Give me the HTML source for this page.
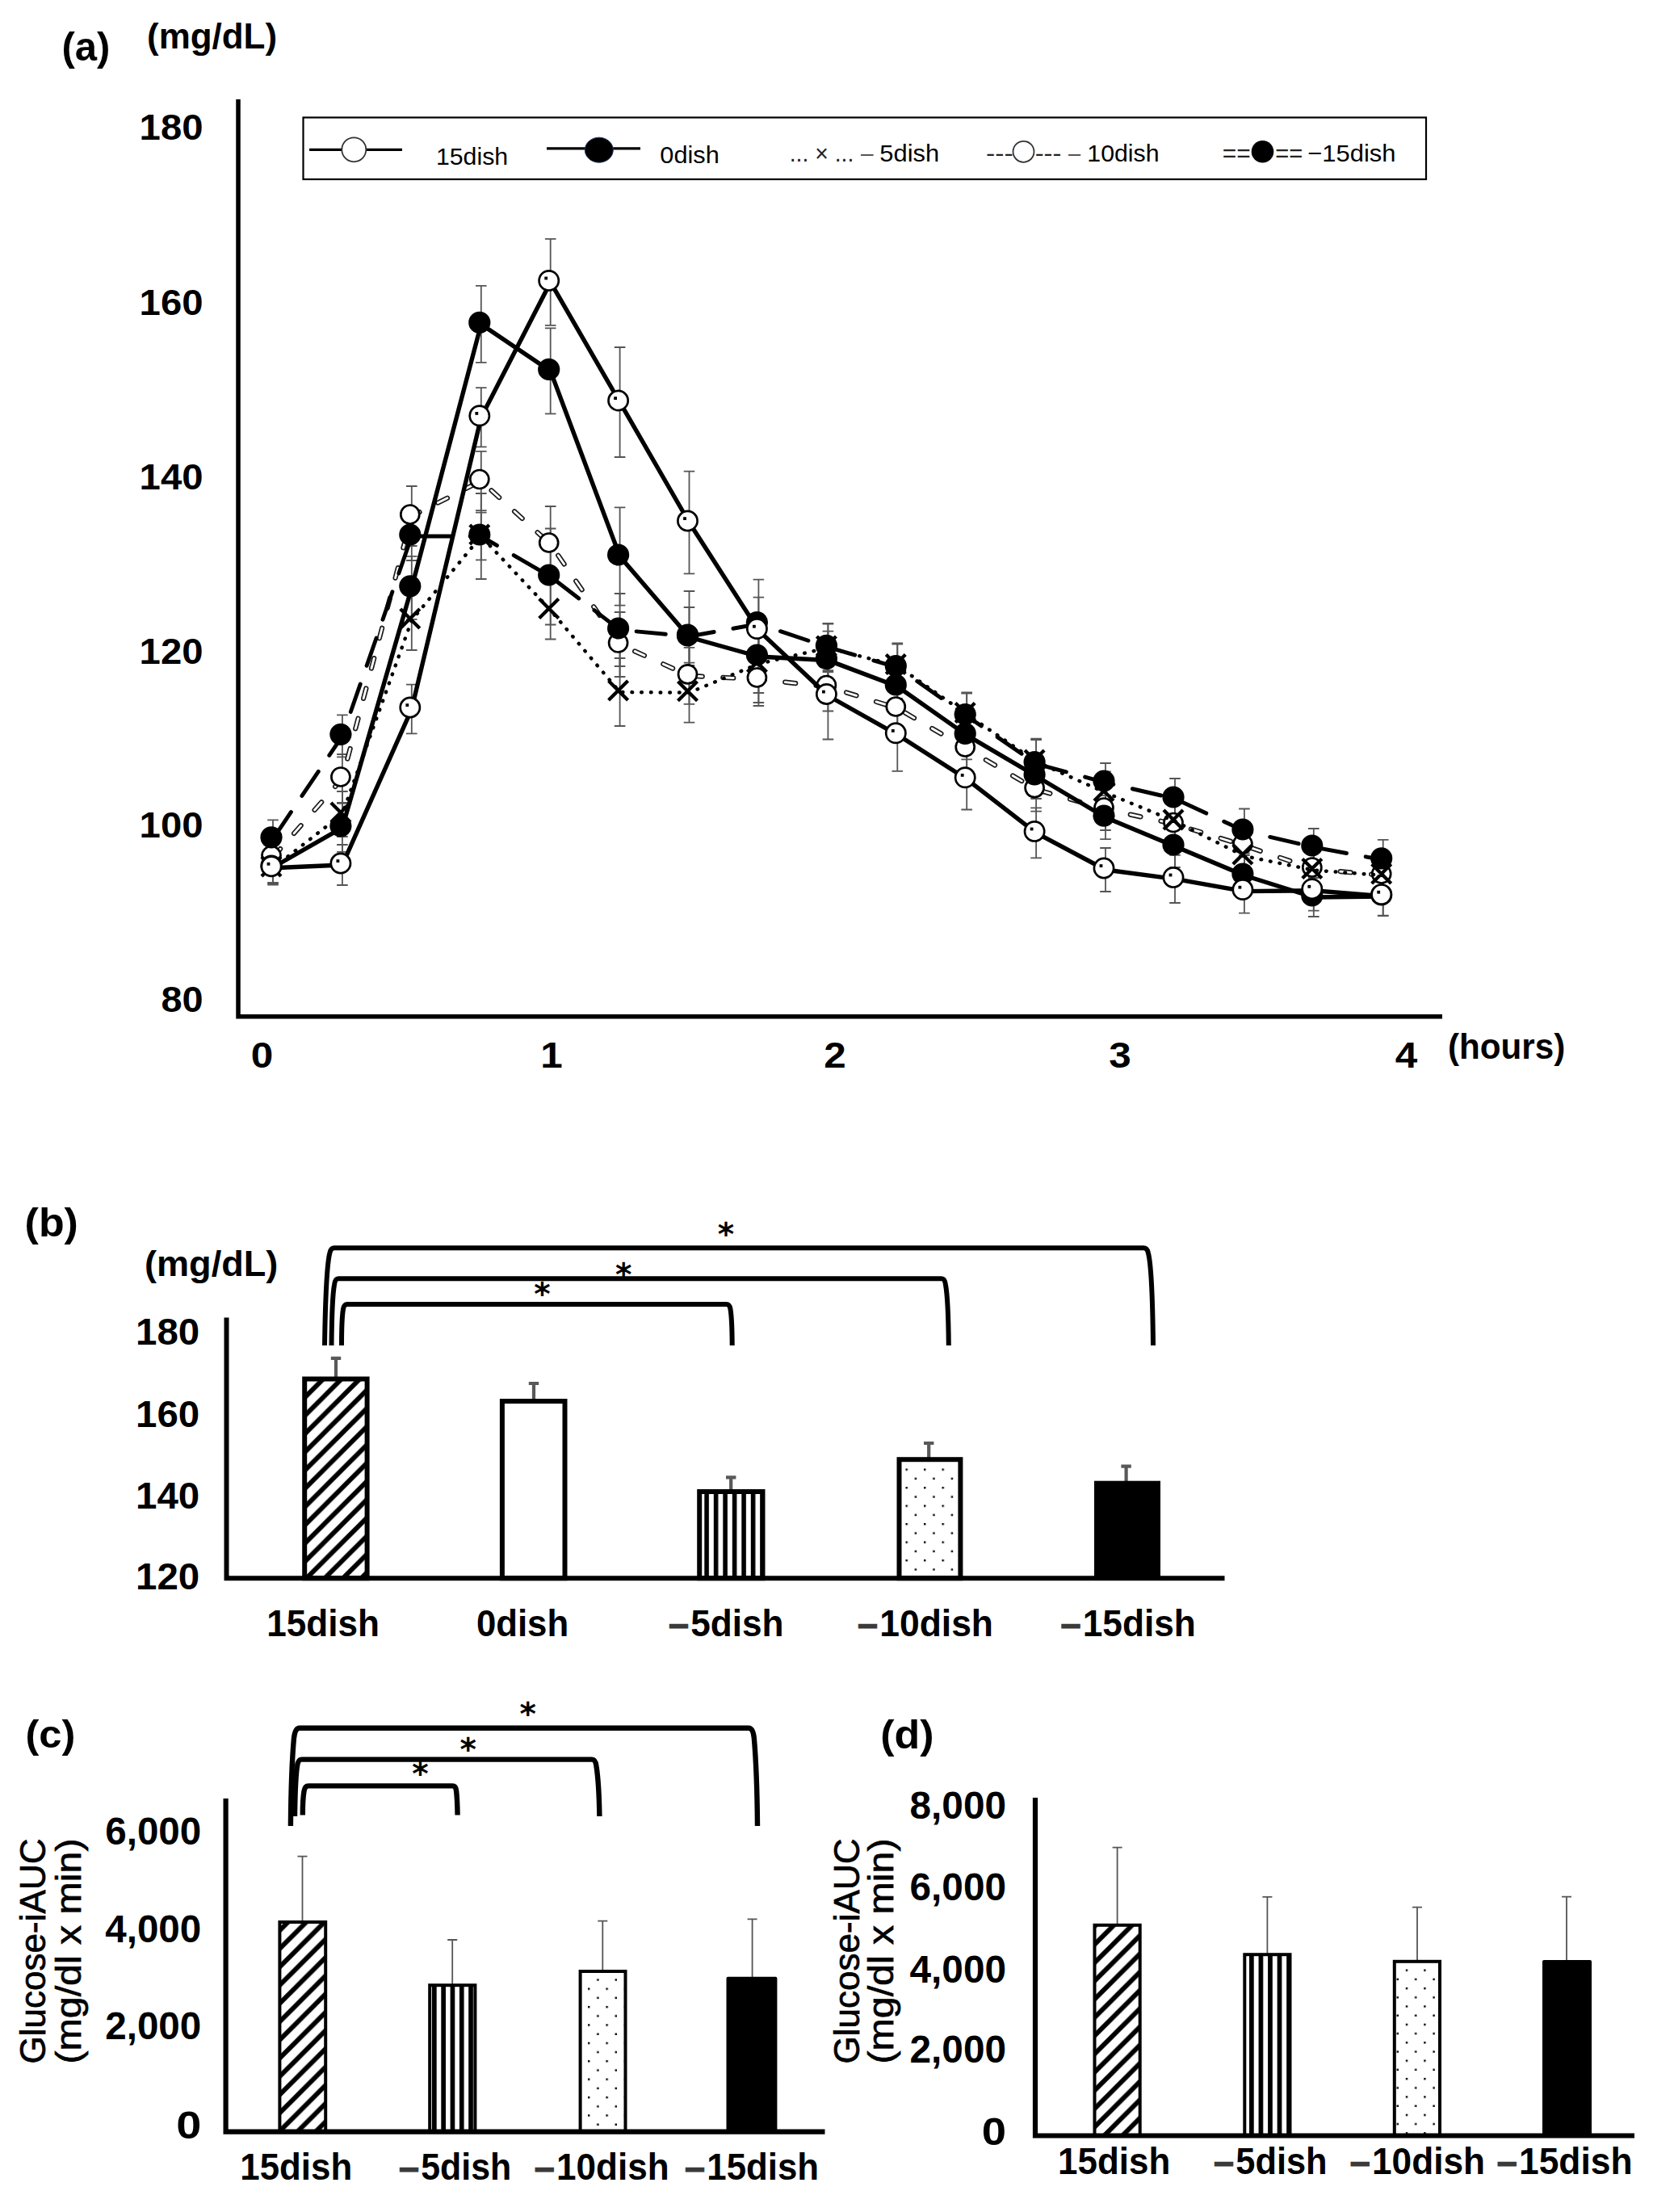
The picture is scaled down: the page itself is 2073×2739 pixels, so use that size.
<!DOCTYPE html>
<html lang="en"><head><meta charset="utf-8"><title>Figure</title>
<style>
html,body{margin:0;padding:0;background:#fff}
body{width:2073px;height:2739px;overflow:hidden}
svg{display:block;font-family:"Liberation Sans", sans-serif}
</style></head><body>
<svg width="2073" height="2739" viewBox="0 0 2073 2739">
<rect width="2073" height="2739" fill="#fff"/>
<defs><pattern id="hB" patternUnits="userSpaceOnUse" width="22.6" height="22.6" patternTransform="translate(379.9 1727.9)"><rect width="22.6" height="22.6" fill="#fff"/><path d="M-5.65 5.65L5.65 -5.65M0 22.6L22.6 0M16.950000000000003 28.25L28.25 16.950000000000003" stroke="#000" stroke-width="5.8" fill="none"/></pattern><pattern id="vB" patternUnits="userSpaceOnUse" width="11.5" height="10" patternTransform="translate(872.3 0)"><rect width="11.5" height="10" fill="#fff"/><rect width="5.6" height="10" fill="#000"/></pattern><pattern id="dB" patternUnits="userSpaceOnUse" width="22.5" height="22.5" patternTransform="translate(1121.5 1818.5)"><rect width="22.5" height="22.5" fill="#fff"/><rect width="2.4" height="2.4" fill="#000"/><rect x="11.25" y="11.25" width="2.4" height="2.4" fill="#000"/></pattern><pattern id="hC" patternUnits="userSpaceOnUse" width="22.6" height="22.6" patternTransform="translate(348.1 2411.2)"><rect width="22.6" height="22.6" fill="#fff"/><path d="M-5.65 5.65L5.65 -5.65M0 22.6L22.6 0M16.950000000000003 28.25L28.25 16.950000000000003" stroke="#000" stroke-width="5.8" fill="none"/></pattern><pattern id="vC" patternUnits="userSpaceOnUse" width="11.3" height="10" patternTransform="translate(535.0 0)"><rect width="11.3" height="10" fill="#fff"/><rect width="5.7" height="10" fill="#000"/></pattern><pattern id="dC" patternUnits="userSpaceOnUse" width="22.4" height="22.4" patternTransform="translate(728.0 2461.5)"><rect width="22.4" height="22.4" fill="#fff"/><rect width="2.4" height="2.4" fill="#000"/><rect x="11.2" y="11.2" width="2.4" height="2.4" fill="#000"/></pattern><pattern id="hD" patternUnits="userSpaceOnUse" width="22.6" height="22.6" patternTransform="translate(1357.2 2406.0)"><rect width="22.6" height="22.6" fill="#fff"/><path d="M-5.65 5.65L5.65 -5.65M0 22.6L22.6 0M16.950000000000003 28.25L28.25 16.950000000000003" stroke="#000" stroke-width="5.8" fill="none"/></pattern><pattern id="vD" patternUnits="userSpaceOnUse" width="11.55" height="10" patternTransform="translate(1547.0 0)"><rect width="11.55" height="10" fill="#fff"/><rect width="5.7" height="10" fill="#000"/></pattern><pattern id="dD" patternUnits="userSpaceOnUse" width="22.4" height="22.4" patternTransform="translate(1740.8 2438.5)"><rect width="22.4" height="22.4" fill="#fff"/><rect width="2.4" height="2.4" fill="#000"/><rect x="11.2" y="11.2" width="2.4" height="2.4" fill="#000"/></pattern></defs>
<g id="panelA">
<text x="76.5" y="74.5" font-size="50" font-weight="bold" fill="#000" textLength="59.9" lengthAdjust="spacingAndGlyphs">(a)</text>
<text x="182.0" y="59.8" font-size="44.5" font-weight="bold" fill="#000" textLength="161.1" lengthAdjust="spacingAndGlyphs">(mg/dL)</text>
<text x="172.6" y="173.3" font-size="44" font-weight="bold" fill="#000" textLength="78.9" lengthAdjust="spacingAndGlyphs">180</text>
<text x="172.6" y="389.8" font-size="44" font-weight="bold" fill="#000" textLength="78.9" lengthAdjust="spacingAndGlyphs">160</text>
<text x="172.6" y="605.8" font-size="44" font-weight="bold" fill="#000" textLength="78.9" lengthAdjust="spacingAndGlyphs">140</text>
<text x="172.6" y="821.8" font-size="44" font-weight="bold" fill="#000" textLength="78.9" lengthAdjust="spacingAndGlyphs">120</text>
<text x="172.6" y="1037.3" font-size="44" font-weight="bold" fill="#000" textLength="78.9" lengthAdjust="spacingAndGlyphs">100</text>
<text x="199.4" y="1252.9" font-size="44" font-weight="bold" fill="#000" textLength="52.1" lengthAdjust="spacingAndGlyphs">80</text>
<text x="310.8" y="1322.0" font-size="44" font-weight="bold" fill="#000" textLength="27.5" lengthAdjust="spacingAndGlyphs">0</text>
<text x="669.2" y="1322.0" font-size="44" font-weight="bold" fill="#000" textLength="27.5" lengthAdjust="spacingAndGlyphs">1</text>
<text x="1020.2" y="1322.0" font-size="44" font-weight="bold" fill="#000" textLength="27.5" lengthAdjust="spacingAndGlyphs">2</text>
<text x="1373.2" y="1322.0" font-size="44" font-weight="bold" fill="#000" textLength="27.5" lengthAdjust="spacingAndGlyphs">3</text>
<text x="1727.7" y="1322.0" font-size="44" font-weight="bold" fill="#000" textLength="27.5" lengthAdjust="spacingAndGlyphs">4</text>
<text x="1793.0" y="1311.0" font-size="44" font-weight="bold" fill="#000" textLength="145.2" lengthAdjust="spacingAndGlyphs">(hours)</text>
<path d="M295 123 V1258.7 H1786" fill="none" stroke="#000" stroke-width="5.5" stroke-linejoin="miter"/>
<rect x="375.5" y="145.5" width="1390.5" height="76.5" fill="#fff" stroke="#000" stroke-width="2.2"/>
<line x1="383" y1="185.3" x2="498" y2="185.3" stroke="#000" stroke-width="3.2"/>
<circle cx="438.3" cy="185.3" r="15" fill="#fff" stroke="#333" stroke-width="1.8"/>
<text x="539.9" y="204.0" font-size="30" font-weight="normal" fill="#000" textLength="89.3" lengthAdjust="spacingAndGlyphs">15dish</text>
<line x1="677" y1="183.8" x2="793" y2="183.8" stroke="#000" stroke-width="3.2"/>
<ellipse cx="741.8" cy="185.7" rx="17.5" ry="15.5" fill="#000" stroke="#1f3864" stroke-width="1"/>
<text x="817.3" y="201.6" font-size="30" font-weight="normal" fill="#000" textLength="73.5" lengthAdjust="spacingAndGlyphs">0dish</text>
<text x="977.7" y="200.4" font-size="30" font-weight="normal" fill="#222" textLength="79.6" lengthAdjust="spacingAndGlyphs">... × ...</text>
<text x="1066.0" y="200.4" font-size="30" font-weight="normal" fill="#555" textLength="15.5" lengthAdjust="spacingAndGlyphs">–</text>
<text x="1089.3" y="200.4" font-size="30" font-weight="normal" fill="#000" textLength="73.8" lengthAdjust="spacingAndGlyphs">5dish</text>
<text x="1221.1" y="200.4" font-size="30" font-weight="normal" fill="#222" textLength="33.7" lengthAdjust="spacingAndGlyphs">---</text>
<circle cx="1267.5" cy="187.8" r="13" fill="#fff" stroke="#333" stroke-width="1.8"/>
<text x="1281.7" y="200.4" font-size="30" font-weight="normal" fill="#222" textLength="32.8" lengthAdjust="spacingAndGlyphs">---</text>
<text x="1323.0" y="200.4" font-size="30" font-weight="normal" fill="#555" textLength="15.1" lengthAdjust="spacingAndGlyphs">–</text>
<text x="1346.3" y="200.4" font-size="30" font-weight="normal" fill="#000" textLength="89.3" lengthAdjust="spacingAndGlyphs">10dish</text>
<text x="1513.7" y="200.4" font-size="30" font-weight="normal" fill="#222" textLength="34.9" lengthAdjust="spacingAndGlyphs">==</text>
<circle cx="1563.5" cy="187.8" r="13.8" fill="#000"/>
<text x="1579.3" y="200.4" font-size="30" font-weight="normal" fill="#222" textLength="34.1" lengthAdjust="spacingAndGlyphs">==</text>
<text x="1619.3" y="200.4" font-size="30" font-weight="normal" fill="#000" textLength="109.1" lengthAdjust="spacingAndGlyphs">−15dish</text>
<path d="M338.0 1044.5V1078.5M331.2 1044.5h13.6M331.2 1078.5h13.6M423.9 934.0V994.0M417.1 934.0h13.6M417.1 994.0h13.6M509.8 602.0V676.0M503.0 602.0h13.6M503.0 676.0h13.6M595.8 558.9V632.1M589.0 558.9h13.6M589.0 632.1h13.6M681.7 627.0V721.0M674.9 627.0h13.6M674.9 721.0h13.6M767.6 758.0V838.0M760.8 758.0h13.6M760.8 838.0h13.6M853.5 801.8V871.8M846.7 801.8h13.6M846.7 871.8h13.6M939.4 808.0V874.0M932.6 808.0h13.6M932.6 874.0h13.6M1025.4 820.5V880.5M1018.6 820.5h13.6M1018.6 880.5h13.6M1111.3 849.0V905.0M1104.5 849.0h13.6M1104.5 905.0h13.6M1197.2 899.0V955.0M1190.4 899.0h13.6M1190.4 955.0h13.6M1283.1 950.6V1004.6M1276.3 950.6h13.6M1276.3 1004.6h13.6M1369.0 976.0V1028.0M1362.2 976.0h13.6M1362.2 1028.0h13.6M1455.0 995.5V1045.5M1448.2 995.5h13.6M1448.2 1045.5h13.6M1540.9 1022.0V1072.0M1534.1 1022.0h13.6M1534.1 1072.0h13.6M1626.8 1052.0V1100.0M1620.0 1052.0h13.6M1620.0 1100.0h13.6M1712.7 1061.0V1107.0M1705.9 1061.0h13.6M1705.9 1107.0h13.6" stroke="#555" stroke-width="1.8" fill="none"/>
<path d="M338.0 1057.0V1093.0M331.2 1057.0h13.6M331.2 1093.0h13.6M423.9 980.0V1036.0M417.1 980.0h13.6M417.1 1036.0h13.6M509.8 731.0V805.0M503.0 731.0h13.6M503.0 805.0h13.6M595.8 611.0V717.0M589.0 611.0h13.6M589.0 717.0h13.6M681.7 719.5V791.5M674.9 719.5h13.6M674.9 791.5h13.6M767.6 815.0V899.0M760.8 815.0h13.6M760.8 899.0h13.6M853.5 820.7V894.7M846.7 820.7h13.6M846.7 894.7h13.6M939.4 774.0V870.0M932.6 774.0h13.6M932.6 870.0h13.6M1025.4 772.0V832.0M1018.6 772.0h13.6M1018.6 832.0h13.6M1111.3 796.5V852.5M1104.5 796.5h13.6M1104.5 852.5h13.6M1197.2 857.5V911.5M1190.4 857.5h13.6M1190.4 911.5h13.6M1283.1 916.0V970.0M1276.3 916.0h13.6M1276.3 970.0h13.6M1369.0 955.5V1007.5M1362.2 955.5h13.6M1362.2 1007.5h13.6M1455.0 991.0V1043.0M1448.2 991.0h13.6M1448.2 1043.0h13.6M1540.9 1035.0V1085.0M1534.1 1035.0h13.6M1534.1 1085.0h13.6M1626.8 1053.5V1101.5M1620.0 1053.5h13.6M1620.0 1101.5h13.6M1712.7 1060.0V1108.0M1705.9 1060.0h13.6M1705.9 1108.0h13.6" stroke="#555" stroke-width="1.8" fill="none"/>
<path d="M338.0 1015.3V1062.3M331.2 1015.3h13.6M331.2 1062.3h13.6M423.9 885.3V937.3M417.1 885.3h13.6M417.1 937.3h13.6M509.8 634.0V694.0M503.0 634.0h13.6M503.0 694.0h13.6M595.8 634.6V693.4M589.0 634.6h13.6M589.0 693.4h13.6M681.7 654.5V773.5M674.9 654.5h13.6M674.9 773.5h13.6M767.6 735.0V825.0M760.8 735.0h13.6M760.8 825.0h13.6M853.5 752.0V824.0M846.7 752.0h13.6M846.7 824.0h13.6M939.4 739.6V805.6M932.6 739.6h13.6M932.6 805.6h13.6M1025.4 772.7V830.1M1018.6 772.7h13.6M1018.6 830.1h13.6M1111.3 797.5V855.5M1104.5 797.5h13.6M1104.5 855.5h13.6M1197.2 858.5V914.5M1190.4 858.5h13.6M1190.4 914.5h13.6M1283.1 914.7V976.7M1276.3 914.7h13.6M1276.3 976.7h13.6M1369.0 945.0V993.0M1362.2 945.0h13.6M1362.2 993.0h13.6M1455.0 964.0V1014.0M1448.2 964.0h13.6M1448.2 1014.0h13.6M1540.9 1001.5V1056.5M1534.1 1001.5h13.6M1534.1 1056.5h13.6M1626.8 1026.0V1072.0M1620.0 1026.0h13.6M1620.0 1072.0h13.6M1712.7 1039.8V1089.8M1705.9 1039.8h13.6M1705.9 1089.8h13.6" stroke="#555" stroke-width="1.8" fill="none"/>
<path d="M338.0 1054.0V1094.0M331.2 1054.0h13.6M331.2 1094.0h13.6M423.9 994.8V1054.8M417.1 994.8h13.6M417.1 1054.8h13.6M509.8 688.8V766.8M503.0 688.8h13.6M503.0 766.8h13.6M595.8 353.9V448.9M589.0 353.9h13.6M589.0 448.9h13.6M681.7 406.4V512.4M674.9 406.4h13.6M674.9 512.4h13.6M767.6 628.4V749.6M760.8 628.4h13.6M760.8 749.6h13.6M853.5 732.0V846.0M846.7 732.0h13.6M846.7 846.0h13.6M939.4 768.0V858.0M932.6 768.0h13.6M932.6 858.0h13.6M1025.4 781.6V853.6M1018.6 781.6h13.6M1018.6 853.6h13.6M1111.3 818.0V882.0M1104.5 818.0h13.6M1104.5 882.0h13.6M1197.2 880.4V940.4M1190.4 880.4h13.6M1190.4 940.4h13.6M1283.1 933.0V989.0M1276.3 933.0h13.6M1276.3 989.0h13.6M1369.0 985.2V1039.2M1362.2 985.2h13.6M1362.2 1039.2h13.6M1455.0 1022.0V1074.0M1448.2 1022.0h13.6M1448.2 1074.0h13.6M1540.9 1059.0V1109.0M1534.1 1059.0h13.6M1534.1 1109.0h13.6M1626.8 1087.0V1135.0M1620.0 1087.0h13.6M1620.0 1135.0h13.6M1712.7 1086.0V1134.0M1705.9 1086.0h13.6M1705.9 1134.0h13.6" stroke="#555" stroke-width="1.8" fill="none"/>
<path d="M338.0 1053.7V1095.7M331.2 1053.7h13.6M331.2 1095.7h13.6M423.9 1046.0V1096.0M417.1 1046.0h13.6M417.1 1096.0h13.6M509.8 847.6V908.4M503.0 847.6h13.6M503.0 908.4h13.6M595.8 480.2V553.4M589.0 480.2h13.6M589.0 553.4h13.6M681.7 295.9V402.9M674.9 295.9h13.6M674.9 402.9h13.6M767.6 430.0V566.0M760.8 430.0h13.6M760.8 566.0h13.6M853.5 583.6V710.4M846.7 583.6h13.6M846.7 710.4h13.6M939.4 717.6V843.6M932.6 717.6h13.6M932.6 843.6h13.6M1025.4 807.5V915.5M1018.6 807.5h13.6M1018.6 915.5h13.6M1111.3 864.8V954.8M1104.5 864.8h13.6M1104.5 954.8h13.6M1197.2 927.1V1002.5M1190.4 927.1h13.6M1190.4 1002.5h13.6M1283.1 1000.4V1062.4M1276.3 1000.4h13.6M1276.3 1062.4h13.6M1369.0 1050.0V1104.0M1362.2 1050.0h13.6M1362.2 1104.0h13.6M1455.0 1058.8V1118.0M1448.2 1058.8h13.6M1448.2 1118.0h13.6M1540.9 1076.6V1130.6M1534.1 1076.6h13.6M1534.1 1130.6h13.6M1626.8 1077.7V1127.7M1620.0 1077.7h13.6M1620.0 1127.7h13.6M1712.7 1085.6V1133.6M1705.9 1085.6h13.6M1705.9 1133.6h13.6" stroke="#555" stroke-width="1.8" fill="none"/>
<polyline points="338.0,1061.5 423.9,964.0 509.8,639.0 595.8,595.5 681.7,674.0 767.6,798.0 853.5,836.8 939.4,841.0 1025.4,850.5 1111.3,877.0 1197.2,927.0 1283.1,977.6 1369.0,1002.0 1455.0,1020.5 1540.9,1047.0 1626.8,1076.0 1712.7,1084.0" fill="none" stroke="#1a1a1a" stroke-width="6.2" stroke-dasharray="13 25.6" stroke-dashoffset="-0.8" stroke-linecap="round"/>
<polyline points="338.0,1061.5 423.9,964.0 509.8,639.0 595.8,595.5 681.7,674.0 767.6,798.0 853.5,836.8 939.4,841.0 1025.4,850.5 1111.3,877.0 1197.2,927.0 1283.1,977.6 1369.0,1002.0 1455.0,1020.5 1540.9,1047.0 1626.8,1076.0 1712.7,1084.0" fill="none" stroke="#fff" stroke-width="2.8" stroke-dasharray="13 25.6" stroke-dashoffset="-0.8" stroke-linecap="round"/>
<circle cx="336.0" cy="1059.5" r="11.5" fill="#fff" stroke="#000" stroke-width="2.7"/>
<circle cx="421.9" cy="962.0" r="11.5" fill="#fff" stroke="#000" stroke-width="2.7"/>
<circle cx="507.8" cy="637.0" r="11.5" fill="#fff" stroke="#000" stroke-width="2.7"/>
<circle cx="593.8" cy="593.5" r="11.5" fill="#fff" stroke="#000" stroke-width="2.7"/>
<circle cx="679.7" cy="672.0" r="11.5" fill="#fff" stroke="#000" stroke-width="2.7"/>
<circle cx="765.6" cy="796.0" r="11.5" fill="#fff" stroke="#000" stroke-width="2.7"/>
<circle cx="851.5" cy="834.8" r="11.5" fill="#fff" stroke="#000" stroke-width="2.7"/>
<circle cx="937.4" cy="839.0" r="11.5" fill="#fff" stroke="#000" stroke-width="2.7"/>
<circle cx="1023.4" cy="848.5" r="11.5" fill="#fff" stroke="#000" stroke-width="2.7"/>
<circle cx="1109.3" cy="875.0" r="11.5" fill="#fff" stroke="#000" stroke-width="2.7"/>
<circle cx="1195.2" cy="925.0" r="11.5" fill="#fff" stroke="#000" stroke-width="2.7"/>
<circle cx="1281.1" cy="975.6" r="11.5" fill="#fff" stroke="#000" stroke-width="2.7"/>
<circle cx="1367.0" cy="1000.0" r="11.5" fill="#fff" stroke="#000" stroke-width="2.7"/>
<circle cx="1453.0" cy="1018.5" r="11.5" fill="#fff" stroke="#000" stroke-width="2.7"/>
<circle cx="1538.9" cy="1045.0" r="11.5" fill="#fff" stroke="#000" stroke-width="2.7"/>
<circle cx="1624.8" cy="1074.0" r="11.5" fill="#fff" stroke="#000" stroke-width="2.7"/>
<circle cx="1710.7" cy="1082.0" r="11.5" fill="#fff" stroke="#000" stroke-width="2.7"/>
<polyline points="338.0,1075.0 423.9,1008.0 509.8,768.0 595.8,664.0 681.7,755.5 767.6,857.0 853.5,857.7 939.4,822.0 1025.4,802.0 1111.3,824.5 1197.2,884.5 1283.1,943.0 1369.0,981.5 1455.0,1017.0 1540.9,1060.0 1626.8,1077.5 1712.7,1084.0" fill="none" stroke="#000" stroke-width="4.5" stroke-dasharray="0.6 11.1" stroke-linecap="round"/>
<path d="M324.0 1061.0l24 24M324.0 1085.0l24 -24M409.9 994.0l24 24M409.9 1018.0l24 -24M495.8 754.0l24 24M495.8 778.0l24 -24M581.8 650.0l24 24M581.8 674.0l24 -24M667.7 741.5l24 24M667.7 765.5l24 -24M753.6 843.0l24 24M753.6 867.0l24 -24M839.5 843.7l24 24M839.5 867.7l24 -24M925.4 808.0l24 24M925.4 832.0l24 -24M1011.4 788.0l24 24M1011.4 812.0l24 -24M1097.3 810.5l24 24M1097.3 834.5l24 -24M1183.2 870.5l24 24M1183.2 894.5l24 -24M1269.1 929.0l24 24M1269.1 953.0l24 -24M1355.0 967.5l24 24M1355.0 991.5l24 -24M1441.0 1003.0l24 24M1441.0 1027.0l24 -24M1526.9 1046.0l24 24M1526.9 1070.0l24 -24M1612.8 1063.5l24 24M1612.8 1087.5l24 -24M1698.7 1070.0l24 24M1698.7 1094.0l24 -24" stroke="#000" stroke-width="4.3" fill="none"/>
<polyline points="338.0,1038.8 423.9,911.3 509.8,664.0 595.8,664.0 681.7,714.0 767.6,780.0 853.5,788.0 939.4,772.6 1025.4,801.4 1111.3,826.5 1197.2,886.5 1283.1,945.7 1369.0,969.0 1455.0,989.0 1540.9,1029.0 1626.8,1049.0 1712.7,1064.8" fill="none" stroke="#000" stroke-width="4.9" stroke-dasharray="36.4 24.1" stroke-dashoffset="-3.8" stroke-linecap="round"/>
<circle cx="336.0" cy="1036.8" r="13.6" fill="#000"/>
<circle cx="421.9" cy="909.3" r="13.6" fill="#000"/>
<circle cx="507.8" cy="662.0" r="13.6" fill="#000"/>
<circle cx="593.8" cy="662.0" r="13.6" fill="#000"/>
<circle cx="679.7" cy="712.0" r="13.6" fill="#000"/>
<circle cx="765.6" cy="778.0" r="13.6" fill="#000"/>
<circle cx="851.5" cy="786.0" r="13.6" fill="#000"/>
<circle cx="937.4" cy="770.6" r="13.6" fill="#000"/>
<circle cx="1023.4" cy="799.4" r="13.6" fill="#000"/>
<circle cx="1109.3" cy="824.5" r="13.6" fill="#000"/>
<circle cx="1195.2" cy="884.5" r="13.6" fill="#000"/>
<circle cx="1281.1" cy="943.7" r="13.6" fill="#000"/>
<circle cx="1367.0" cy="967.0" r="13.6" fill="#000"/>
<circle cx="1453.0" cy="987.0" r="13.6" fill="#000"/>
<circle cx="1538.9" cy="1027.0" r="13.6" fill="#000"/>
<circle cx="1624.8" cy="1047.0" r="13.6" fill="#000"/>
<circle cx="1710.7" cy="1062.8" r="13.6" fill="#000"/>
<polyline points="338.0,1074.0 423.9,1024.8 509.8,727.8 595.8,401.4 681.7,459.4 767.6,689.0 853.5,789.0 939.4,813.0 1025.4,817.6 1111.3,850.0 1197.2,910.4 1283.1,961.0 1369.0,1012.2 1455.0,1048.0 1540.9,1084.0 1626.8,1111.0 1712.7,1110.0" fill="none" stroke="#000" stroke-width="5.4" stroke-linejoin="round"/>
<circle cx="336.0" cy="1072.0" r="13.6" fill="#000"/>
<circle cx="421.9" cy="1022.8" r="13.6" fill="#000"/>
<circle cx="507.8" cy="725.8" r="13.6" fill="#000"/>
<circle cx="593.8" cy="399.4" r="13.6" fill="#000"/>
<circle cx="679.7" cy="457.4" r="13.6" fill="#000"/>
<circle cx="765.6" cy="687.0" r="13.6" fill="#000"/>
<circle cx="851.5" cy="787.0" r="13.6" fill="#000"/>
<circle cx="937.4" cy="811.0" r="13.6" fill="#000"/>
<circle cx="1023.4" cy="815.6" r="13.6" fill="#000"/>
<circle cx="1109.3" cy="848.0" r="13.6" fill="#000"/>
<circle cx="1195.2" cy="908.4" r="13.6" fill="#000"/>
<circle cx="1281.1" cy="959.0" r="13.6" fill="#000"/>
<circle cx="1367.0" cy="1010.2" r="13.6" fill="#000"/>
<circle cx="1453.0" cy="1046.0" r="13.6" fill="#000"/>
<circle cx="1538.9" cy="1082.0" r="13.6" fill="#000"/>
<circle cx="1624.8" cy="1109.0" r="13.6" fill="#000"/>
<circle cx="1710.7" cy="1108.0" r="13.6" fill="#000"/>
<polyline points="338.0,1074.7 423.9,1071.0 509.8,878.0 595.8,516.8 681.7,349.4 767.6,498.0 853.5,647.0 939.4,780.6 1025.4,861.5 1111.3,909.8 1197.2,964.8 1283.1,1031.4 1369.0,1077.0 1455.0,1088.4 1540.9,1103.6 1626.8,1102.7 1712.7,1109.6" fill="none" stroke="#000" stroke-width="5.4" stroke-linejoin="round"/>
<circle cx="336.0" cy="1072.7" r="12.1" fill="#fff" stroke="#000" stroke-width="2.7"/>
<rect x="330.6" y="1067.9" width="3.8" height="3.8" fill="#000"/>
<circle cx="421.9" cy="1069.0" r="12.1" fill="#fff" stroke="#000" stroke-width="2.7"/>
<rect x="416.5" y="1064.2" width="3.8" height="3.8" fill="#000"/>
<circle cx="507.8" cy="876.0" r="12.1" fill="#fff" stroke="#000" stroke-width="2.7"/>
<rect x="502.4" y="871.2" width="3.8" height="3.8" fill="#000"/>
<circle cx="593.8" cy="514.8" r="12.1" fill="#fff" stroke="#000" stroke-width="2.7"/>
<rect x="588.4" y="510.0" width="3.8" height="3.8" fill="#000"/>
<circle cx="679.7" cy="347.4" r="12.1" fill="#fff" stroke="#000" stroke-width="2.7"/>
<rect x="674.3" y="342.6" width="3.8" height="3.8" fill="#000"/>
<circle cx="765.6" cy="496.0" r="12.1" fill="#fff" stroke="#000" stroke-width="2.7"/>
<rect x="760.2" y="491.2" width="3.8" height="3.8" fill="#000"/>
<circle cx="851.5" cy="645.0" r="12.1" fill="#fff" stroke="#000" stroke-width="2.7"/>
<rect x="846.1" y="640.2" width="3.8" height="3.8" fill="#000"/>
<circle cx="937.4" cy="778.6" r="12.1" fill="#fff" stroke="#000" stroke-width="2.7"/>
<rect x="932.0" y="773.8" width="3.8" height="3.8" fill="#000"/>
<circle cx="1023.4" cy="859.5" r="12.1" fill="#fff" stroke="#000" stroke-width="2.7"/>
<rect x="1018.0" y="854.7" width="3.8" height="3.8" fill="#000"/>
<circle cx="1109.3" cy="907.8" r="12.1" fill="#fff" stroke="#000" stroke-width="2.7"/>
<rect x="1103.9" y="903.0" width="3.8" height="3.8" fill="#000"/>
<circle cx="1195.2" cy="962.8" r="12.1" fill="#fff" stroke="#000" stroke-width="2.7"/>
<rect x="1189.8" y="958.0" width="3.8" height="3.8" fill="#000"/>
<circle cx="1281.1" cy="1029.4" r="12.1" fill="#fff" stroke="#000" stroke-width="2.7"/>
<rect x="1275.7" y="1024.6" width="3.8" height="3.8" fill="#000"/>
<circle cx="1367.0" cy="1075.0" r="12.1" fill="#fff" stroke="#000" stroke-width="2.7"/>
<rect x="1361.6" y="1070.2" width="3.8" height="3.8" fill="#000"/>
<circle cx="1453.0" cy="1086.4" r="12.1" fill="#fff" stroke="#000" stroke-width="2.7"/>
<rect x="1447.6" y="1081.6" width="3.8" height="3.8" fill="#000"/>
<circle cx="1538.9" cy="1101.6" r="12.1" fill="#fff" stroke="#000" stroke-width="2.7"/>
<rect x="1533.5" y="1096.8" width="3.8" height="3.8" fill="#000"/>
<circle cx="1624.8" cy="1100.7" r="12.1" fill="#fff" stroke="#000" stroke-width="2.7"/>
<rect x="1619.4" y="1095.9" width="3.8" height="3.8" fill="#000"/>
<circle cx="1710.7" cy="1107.6" r="12.1" fill="#fff" stroke="#000" stroke-width="2.7"/>
<rect x="1705.3" y="1102.8" width="3.8" height="3.8" fill="#000"/>
</g>
<g id="panelB">
<text x="30.6" y="1531.0" font-size="50" font-weight="bold" fill="#000" textLength="66.3" lengthAdjust="spacingAndGlyphs">(b)</text>
<text x="179.0" y="1580.0" font-size="45" font-weight="bold" fill="#000" textLength="165.3" lengthAdjust="spacingAndGlyphs">(mg/dL)</text>
<text x="168.0" y="1665.0" font-size="45.5" font-weight="bold" fill="#000" textLength="79.2" lengthAdjust="spacingAndGlyphs">180</text>
<text x="168.0" y="1767.0" font-size="45.5" font-weight="bold" fill="#000" textLength="79.2" lengthAdjust="spacingAndGlyphs">160</text>
<text x="168.0" y="1868.0" font-size="45.5" font-weight="bold" fill="#000" textLength="79.2" lengthAdjust="spacingAndGlyphs">140</text>
<text x="168.0" y="1968.0" font-size="45.5" font-weight="bold" fill="#000" textLength="79.2" lengthAdjust="spacingAndGlyphs">120</text>
<path d="M416 1681.8V1706M409.8 1681.8h12.4" stroke="#595959" stroke-width="4.2" fill="none"/>
<rect x="377.2" y="1707.5" width="77.4" height="246.7" fill="url(#hB)" stroke="#000" stroke-width="6"/>
<path d="M661 1713V1733M654.8 1713h12.4" stroke="#595959" stroke-width="4.2" fill="none"/>
<rect x="621.9" y="1735" width="77.6" height="219.2" fill="#fff" stroke="#000" stroke-width="6"/>
<path d="M905.2 1829.3V1845M899.0 1829.3h12.4" stroke="#595959" stroke-width="4.2" fill="none"/>
<rect x="866.2" y="1847" width="78.3" height="107.2" fill="url(#vB)" stroke="#000" stroke-width="6"/>
<path d="M1150.2 1787V1805M1144.0 1787h12.4" stroke="#595959" stroke-width="4.2" fill="none"/>
<rect x="1113.5" y="1807.2" width="75.9" height="147.0" fill="url(#dB)" stroke="#000" stroke-width="6"/>
<path d="M1394.6 1815.6V1834M1388.3999999999999 1815.6h12.4" stroke="#595959" stroke-width="4.2" fill="none"/>
<rect x="1355" y="1833.7" width="82" height="120.5" fill="#000"/>
<path d="M280.5 1631.6 V1954.2 H1516.5" fill="none" stroke="#000" stroke-width="6"/>
<text x="330.3" y="2026.0" font-size="46" font-weight="bold" fill="#000" textLength="139.7" lengthAdjust="spacingAndGlyphs">15dish</text>
<text x="589.9" y="2026.0" font-size="46" font-weight="bold" fill="#000" textLength="114.3" lengthAdjust="spacingAndGlyphs">0dish</text>
<text x="828.0" y="2026.0" font-size="46" font-weight="bold" fill="#3a3a3a" textLength="25.0" lengthAdjust="spacingAndGlyphs" stroke="#3a3a3a" stroke-width="1.2">–</text>
<text x="855.3" y="2026.0" font-size="46" font-weight="bold" fill="#000" textLength="115.3" lengthAdjust="spacingAndGlyphs">5dish</text>
<text x="1062.0" y="2026.0" font-size="46" font-weight="bold" fill="#3a3a3a" textLength="25.0" lengthAdjust="spacingAndGlyphs" stroke="#3a3a3a" stroke-width="1.2">–</text>
<text x="1089.3" y="2026.0" font-size="46" font-weight="bold" fill="#000" textLength="140.7" lengthAdjust="spacingAndGlyphs">10dish</text>
<text x="1313.4" y="2026.0" font-size="46" font-weight="bold" fill="#3a3a3a" textLength="25.0" lengthAdjust="spacingAndGlyphs" stroke="#3a3a3a" stroke-width="1.2">–</text>
<text x="1340.7" y="2026.0" font-size="46" font-weight="bold" fill="#000" textLength="140.2" lengthAdjust="spacingAndGlyphs">15dish</text>
<path d="M402 1666 C403 1600 405.5 1562 408.5 1551 Q409.8 1545.3 414 1545.3 H1416 Q1420.5 1545.3 1421.8 1551 C1424.8 1562 1427.3 1600 1428 1666" fill="none" stroke="#000" stroke-width="6"/>
<path d="M410.5 1666 C410.8 1635 412 1602 414 1591 Q415 1583.3 419 1583.3 H1166 Q1170 1583.3 1171 1591 C1173 1602 1174.5 1635 1174.8 1666" fill="none" stroke="#000" stroke-width="6"/>
<path d="M423 1666 C423 1648 423.5 1630 425 1621 Q426 1615 430 1615 H899.5 Q903.5 1615 904.5 1621 C906 1630 906.6 1648 906.7 1666" fill="none" stroke="#000" stroke-width="6"/>
<text x="898.9" y="1542.3" font-size="39" font-weight="bold" fill="#000" text-anchor="middle" font-family="DejaVu Sans, sans-serif">*</text>
<text x="772.3" y="1592.3" font-size="39" font-weight="bold" fill="#000" text-anchor="middle" font-family="DejaVu Sans, sans-serif">*</text>
<text x="671.5" y="1615.8" font-size="39" font-weight="bold" fill="#000" text-anchor="middle" font-family="DejaVu Sans, sans-serif">*</text>
</g>
<g id="panelC">
<text x="31.5" y="2164.3" font-size="49" font-weight="bold" fill="#000" textLength="61.9" lengthAdjust="spacingAndGlyphs">(c)</text>
<text transform="translate(56.0 2416.0) rotate(-90)" font-size="44" font-weight="normal" stroke="#000" stroke-width="0.7" text-anchor="middle" textLength="279" lengthAdjust="spacingAndGlyphs">Glucose-iAUC</text>
<text transform="translate(100.0 2416.0) rotate(-90)" font-size="44" font-weight="normal" stroke="#000" stroke-width="0.7" text-anchor="middle" textLength="279" lengthAdjust="spacingAndGlyphs">(mg/dl x min)</text>
<text x="130.2" y="2284.0" font-size="48" font-weight="bold" fill="#000" textLength="119.1" lengthAdjust="spacingAndGlyphs">6,000</text>
<text x="130.2" y="2405.1" font-size="48" font-weight="bold" fill="#000" textLength="119.1" lengthAdjust="spacingAndGlyphs">4,000</text>
<text x="130.2" y="2525.0" font-size="48" font-weight="bold" fill="#000" textLength="119.1" lengthAdjust="spacingAndGlyphs">2,000</text>
<text x="218.2" y="2647.5" font-size="48" font-weight="bold" fill="#000" textLength="31.1" lengthAdjust="spacingAndGlyphs">0</text>
<path d="M374.5 2298.6V2380M368.5 2298.6h12" stroke="#555" stroke-width="1.8" fill="none"/>
<rect x="346.4" y="2380" width="56.8" height="259.7" fill="url(#hC)" stroke="#000" stroke-width="4"/>
<path d="M560.2 2402V2458M554.2 2402h12" stroke="#555" stroke-width="1.8" fill="none"/>
<rect x="532.2" y="2458.2" width="56.2" height="181.5" fill="url(#vC)" stroke="#000" stroke-width="4"/>
<path d="M746.3 2378.7V2441M740.3 2378.7h12" stroke="#555" stroke-width="1.8" fill="none"/>
<rect x="718.6" y="2441" width="55.9" height="198.7" fill="url(#dC)" stroke="#000" stroke-width="4"/>
<path d="M931.6 2376.4V2448M925.6 2376.4h12" stroke="#555" stroke-width="1.8" fill="none"/>
<rect x="899.5" y="2447.7" width="62.9" height="192.0" fill="#000" rx="2"/>
<path d="M279.6 2227 V2639.7 H1021.5" fill="none" stroke="#000" stroke-width="6.2"/>
<text x="297.3" y="2699.0" font-size="46" font-weight="bold" fill="#000" textLength="138.9" lengthAdjust="spacingAndGlyphs">15dish</text>
<text x="494.0" y="2699.0" font-size="46" font-weight="bold" fill="#3a3a3a" textLength="25.0" lengthAdjust="spacingAndGlyphs" stroke="#3a3a3a" stroke-width="1.2">–</text>
<text x="521.3" y="2699.0" font-size="46" font-weight="bold" fill="#000" textLength="111.9" lengthAdjust="spacingAndGlyphs">5dish</text>
<text x="661.7" y="2699.0" font-size="46" font-weight="bold" fill="#3a3a3a" textLength="25.0" lengthAdjust="spacingAndGlyphs" stroke="#3a3a3a" stroke-width="1.2">–</text>
<text x="689.0" y="2699.0" font-size="46" font-weight="bold" fill="#000" textLength="139.6" lengthAdjust="spacingAndGlyphs">10dish</text>
<text x="848.0" y="2699.0" font-size="46" font-weight="bold" fill="#3a3a3a" textLength="25.0" lengthAdjust="spacingAndGlyphs" stroke="#3a3a3a" stroke-width="1.2">–</text>
<text x="875.3" y="2699.0" font-size="46" font-weight="bold" fill="#000" textLength="138.8" lengthAdjust="spacingAndGlyphs">15dish</text>
<path d="M359.9 2261 C360.2 2225 361.5 2180 364 2152 Q365.5 2139.7 371 2139.7 H927 Q932.5 2139.7 933.8 2152 C936.3 2180 937.7 2225 938 2261" fill="none" stroke="#000" stroke-width="6.4"/>
<path d="M365 2249 C365.3 2225 366.3 2198 368 2187 Q369 2178.6 373.5 2178.6 H733 Q737.5 2178.6 738.5 2187 C740.2 2198 742 2225 742.4 2249" fill="none" stroke="#000" stroke-width="6.4"/>
<path d="M374.8 2247.5 C374.8 2235 375.3 2225 376.5 2218 Q377.5 2211.4 382 2211.4 H560.5 Q564.3 2211.4 565 2217 C566 2225 566.4 2235 566.6 2247.5" fill="none" stroke="#000" stroke-width="6.4"/>
<text x="653.8" y="2136.0" font-size="39" font-weight="bold" fill="#000" text-anchor="middle" font-family="DejaVu Sans, sans-serif">*</text>
<text x="579.7" y="2180.0" font-size="39" font-weight="bold" fill="#000" text-anchor="middle" font-family="DejaVu Sans, sans-serif">*</text>
<text x="520.5" y="2209.7" font-size="39" font-weight="bold" fill="#000" text-anchor="middle" font-family="DejaVu Sans, sans-serif">*</text>
</g>
<g id="panelD">
<text x="1090.3" y="2164.6" font-size="49.5" font-weight="bold" fill="#000" textLength="66.3" lengthAdjust="spacingAndGlyphs">(d)</text>
<text transform="translate(1064.0 2416.0) rotate(-90)" font-size="44" font-weight="normal" stroke="#000" stroke-width="0.7" text-anchor="middle" textLength="279" lengthAdjust="spacingAndGlyphs">Glucose-iAUC</text>
<text transform="translate(1106.0 2416.0) rotate(-90)" font-size="44" font-weight="normal" stroke="#000" stroke-width="0.7" text-anchor="middle" textLength="279" lengthAdjust="spacingAndGlyphs">(mg/dl x min)</text>
<text x="1126.5" y="2251.5" font-size="48" font-weight="bold" fill="#000" textLength="119.5" lengthAdjust="spacingAndGlyphs">8,000</text>
<text x="1126.5" y="2353.0" font-size="48" font-weight="bold" fill="#000" textLength="119.5" lengthAdjust="spacingAndGlyphs">6,000</text>
<text x="1126.5" y="2455.0" font-size="48" font-weight="bold" fill="#000" textLength="119.5" lengthAdjust="spacingAndGlyphs">4,000</text>
<text x="1126.5" y="2554.0" font-size="48" font-weight="bold" fill="#000" textLength="119.5" lengthAdjust="spacingAndGlyphs">2,000</text>
<text x="1215.7" y="2656.2" font-size="48" font-weight="bold" fill="#000" textLength="30.3" lengthAdjust="spacingAndGlyphs">0</text>
<path d="M1383.6 2287.7V2384M1377.6 2287.7h12" stroke="#555" stroke-width="1.8" fill="none"/>
<rect x="1355.5" y="2383.8" width="56.2" height="260.7" fill="url(#hD)" stroke="#000" stroke-width="4"/>
<path d="M1569.4 2348.8V2420M1563.4 2348.8h12" stroke="#555" stroke-width="1.8" fill="none"/>
<rect x="1541.3" y="2420.2" width="56.2" height="224.3" fill="url(#vD)" stroke="#000" stroke-width="4"/>
<path d="M1755 2361.7V2429M1749 2361.7h12" stroke="#555" stroke-width="1.8" fill="none"/>
<rect x="1726.8" y="2428.8" width="56.2" height="215.7" fill="url(#dD)" stroke="#000" stroke-width="4"/>
<path d="M1940 2348.7V2428M1934 2348.7h12" stroke="#555" stroke-width="1.8" fill="none"/>
<rect x="1910" y="2427" width="61" height="217.5" fill="#000" rx="2"/>
<path d="M1282 2226 V2644.5 H2024" fill="none" stroke="#000" stroke-width="6.2"/>
<text x="1310.1" y="2692.0" font-size="46" font-weight="bold" fill="#000" textLength="139.2" lengthAdjust="spacingAndGlyphs">15dish</text>
<text x="1503.0" y="2692.0" font-size="46" font-weight="bold" fill="#3a3a3a" textLength="25.0" lengthAdjust="spacingAndGlyphs" stroke="#3a3a3a" stroke-width="1.2">–</text>
<text x="1530.3" y="2692.0" font-size="46" font-weight="bold" fill="#000" textLength="113.3" lengthAdjust="spacingAndGlyphs">5dish</text>
<text x="1671.7" y="2692.0" font-size="46" font-weight="bold" fill="#3a3a3a" textLength="25.0" lengthAdjust="spacingAndGlyphs" stroke="#3a3a3a" stroke-width="1.2">–</text>
<text x="1699.0" y="2692.0" font-size="46" font-weight="bold" fill="#000" textLength="140.1" lengthAdjust="spacingAndGlyphs">10dish</text>
<text x="1853.7" y="2692.0" font-size="46" font-weight="bold" fill="#3a3a3a" textLength="25.0" lengthAdjust="spacingAndGlyphs" stroke="#3a3a3a" stroke-width="1.2">–</text>
<text x="1881.0" y="2692.0" font-size="46" font-weight="bold" fill="#000" textLength="140.6" lengthAdjust="spacingAndGlyphs">15dish</text>
</g>
</svg>
</body></html>
